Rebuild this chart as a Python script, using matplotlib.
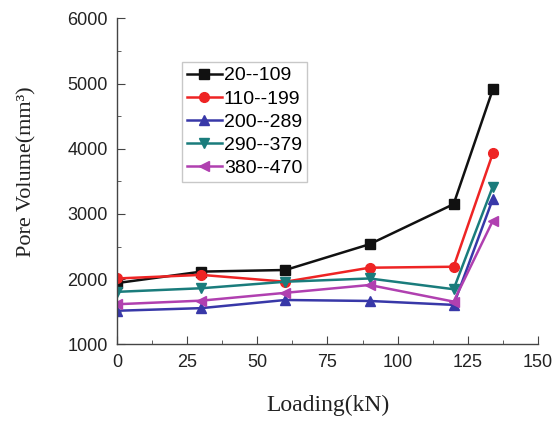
import numpy as np
import matplotlib
matplotlib.use('Agg')
import matplotlib.pyplot as plt
from matplotlib.ticker import MultipleLocator

# loading steps (kN)
loading = [0, 30, 60, 90, 120, 134]

# pore volume (mm^3) for each size range
v_20_109 = [1940, 2115, 2140, 2535, 3150, 4910]
v_110_199 = [2010, 2065, 1960, 2175, 2190, 3930]
v_200_289 = [1515, 1555, 1680, 1665, 1605, 3230]
v_290_379 = [1805, 1860, 1960, 2010, 1845, 3420]
v_380_470 = [1615, 1670, 1790, 1910, 1655, 2895]

labels = ['20--109', '110--199', '200--289', '290--379', '380--470']
series = [v_20_109, v_110_199, v_200_289, v_290_379, v_380_470]
colors = ['#111111', '#ee2424', '#3838a8', '#1a7c7c', '#b040b0']
markers = ['s', 'o', '^', 'v', '<']

plt.rcParams['font.family'] = ['Liberation Sans', 'DejaVu Sans']

fig = plt.figure(figsize=(5.53, 4.23), dpi=100)
ax = fig.add_axes([0.2121, 0.186, 0.7602, 0.7707])

for vals, lab, c, m in zip(series, labels, colors, markers):
    ax.plot(loading, vals, color=c, marker=m, markersize=7, linewidth=1.8, label=lab)

ax.set_xlim(0, 150)
ax.set_ylim(1000, 6000)
ax.xaxis.set_major_locator(MultipleLocator(25))
ax.xaxis.set_minor_locator(MultipleLocator(12.5))
ax.yaxis.set_major_locator(MultipleLocator(1000))
ax.yaxis.set_minor_locator(MultipleLocator(500))

ax.spines['top'].set_visible(False)
ax.spines['right'].set_visible(False)
for s in ['left', 'bottom']:
    ax.spines[s].set_color('#444444')
    ax.spines[s].set_linewidth(1.0)

ax.tick_params(which='both', direction='in', colors='#444444', labelcolor='#222222')
ax.tick_params(which='major', length=6, labelsize=13)
ax.tick_params(which='minor', length=3)
ax.tick_params(axis='x', pad=7)
ax.tick_params(axis='y', pad=7)

ax.set_xlabel('Loading(kN)', family=['Liberation Serif'], fontsize=17, color='#222222', labelpad=17)
ax.set_ylabel('Pore Volume(mm³)', family=['Liberation Serif'], fontsize=16, color='#222222', labelpad=22)
ax.yaxis.label.set_y(0.53)

leg = ax.legend(loc='upper left', bbox_to_anchor=(0.154, 0.866), borderaxespad=0,
                fontsize=14, frameon=True, fancybox=False, handlelength=1.8,
                handletextpad=0.1, labelspacing=0.28, borderpad=0.25)
leg.get_frame().set_edgecolor('#bbbbbb')
leg.get_frame().set_linewidth(1.0)

fig.savefig('out.png', dpi=100)
